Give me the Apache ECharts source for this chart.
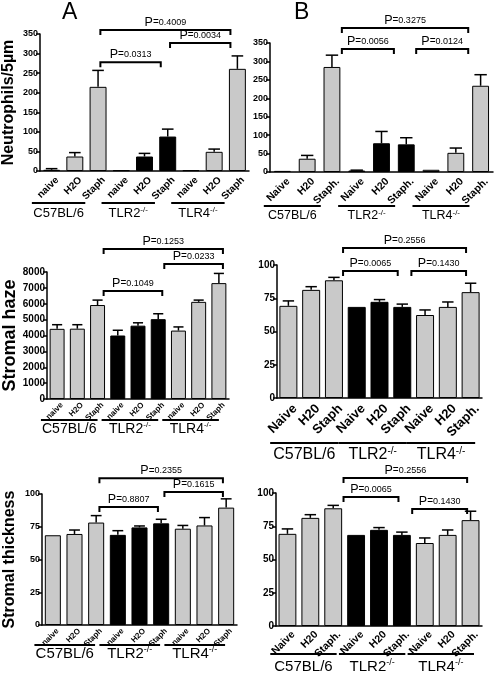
<!DOCTYPE html>
<html><head><meta charset="utf-8">
<script src="https://cdn.jsdelivr.net/npm/echarts@6/dist/echarts.min.js"></script>
<style>html,body{margin:0;padding:0;background:#fff}#c{width:496px;height:678px}</style>
</head><body><div id="c"></div>
<script>
// ---------- DATA ----------
const catsA  = ['naive','H2O','Staph','naive','H2O','Staph','naive','H2O','Staph'];
const catsB1 = ['Naive','H20','Staph.','Naive','H20','Staph.','Naive','H20','Staph.'];
const catsB2 = ['Naive','H20','Staph','Naive','H20','Staph','Naive','H20','Staph.'];
const catsB3 = ['Naive','H20','Staph.','Naive','H20','Staph.','Naive','H20','Staph.'];
const groupNames = ['C57BL/6','TLR2','TLR4'];
const groupSup   = ['', '-/-', '-/-'];
const groupSpans = [[0,2],[3,5],[6,8]];
const blackBar   = [false,false,false,true,true,true,false,false,false];

// Neutrophils/5µm
const neutroA    = [3, 37, 215, 2, 37, 88, 2, 49, 261];
const neutroAErr = [6, 47, 257, null, 45, 107, null, 56, 294];
const neutroB    = [3, 36, 285, 4, 78, 75, 6, 52, 234];
const neutroBErr = [null, 45, 317, 5, 110, 93, null, 65, 264];
// Stromal haze
const hazeA    = [4420, 4430, 5920, 4000, 4620, 5030, 4310, 6120, 7300];
const hazeAErr = [4680, 4680, 6230, 4330, 4800, 5370, 4540, 6230, 7910];
const hazeB    = [69.3, 81.3, 88.5, 68.5, 72.3, 68.5, 62.4, 68.5, 79.6];
const hazeBErr = [73.0, 83.7, 90.7, null, 74.0, 70.6, 66.2, 72.2, 86.3];
// Stromal thickness
const thickA    = [68.5, 69.5, 78.2, 68.8, 74.5, 77.6, 73.5, 76.0, 89.6];
const thickAErr = [null, 72.5, 83.5, 72.0, 75.6, 80.7, 76.0, 82.0, 96.3];
const thickB    = [69.3, 81.3, 88.5, 68.5, 72.3, 68.5, 62.4, 68.5, 79.6];
const thickBErr = [73.0, 83.7, 90.7, null, 74.0, 70.6, 66.2, 72.2, 86.3];

// Significance brackets: [fromCategory, toCategory, height]
const brA1 = [[2,8,360],[2,5,278],[5,8,327]];  const pA1 = ['0.4009','0.0313','0.0034'];
const brB1 = [[2,8,391],[2,5,334],[5,8,334]];  const pB1 = ['0.3275','0.0056','0.0124'];
const brA2 = [[2,8,9450],[5,8,8500],[2,5,6800]]; const pA2 = ['0.1253','0.0233','0.1049'];
const brB2 = [[2,8,112.8],[2,5,95.5],[5,8,95.5]]; const pB2 = ['0.2556','0.0065','0.1430'];
const brA3 = [[2,8,112],[5,8,101.5],[2,5,90]];  const pA3 = ['0.2355','0.1615','0.8807'];
const brB3 = [[2,8,111.3],[2,5,97],[5,8,88]];   const pB3 = ['0.2556','0.0065','0.1430'];

// ---------- LAYOUT / STYLE ----------
const FF = "'Liberation Sans', Arial, Helvetica, sans-serif";
const P = [
 {g:[40,34,209,137], max:350, int:50, cats:catsA, v:neutroA, e:neutroAErr, br:brA1, pv:pA1, yf:9, xf:10, ld:[2,4], bw:'73%',
  name:'Neutrophils/5µm', ns:16, ng:23, bi:[0.1,-0.3], go:[-0.85,-0.55], gd:[32,42], gf:13},
 {g:[270,43,223,129], max:350, int:50, cats:catsB1, v:neutroB, e:neutroBErr, br:brB1, pv:pB1, yf:9, xf:10.5, ld:[2,4], bw:'68%',
  name:'', bi:[0.4,-0.5], go:[-0.75,-0.45], gd:[34,44], gf:12.5},
 {g:[47,272,182,127], max:8000, int:1000, cats:catsA, v:hazeA, e:hazeAErr, br:brA2, pv:pA2, yf:10, xf:8, ld:[2,2], bw:'74%',
  name:'Stromal haze', ns:18, ng:28, bi:[0.3,0.2], go:[-0.8,0], gd:[21,30], gf:14},
 {g:[277,265,205,133], max:100, int:25, cats:catsB2, v:hazeB, e:hazeBErr, br:brB2, pv:pB2, yf:10, xf:13, ld:[2,4], bw:'79%',
  name:'', bi:[0.4,-0.2], go:[-0.8,0.2], gd:[45,57], gf:16},
 {g:[42,494,195,131], max:100, int:25, cats:catsA, v:thickA, e:thickAErr, br:brA3, pv:pA3, yf:9, xf:8, ld:[2,2], bw:'74%',
  name:'Stromal thickness', ns:16, ng:24, bi:[0.15,-0.15], go:[-0.85,-0.05], gd:[20,29], gf:15},
 {g:[276,493,206,133], max:100, int:25, cats:catsB3, v:thickB, e:thickBErr, br:brB3, pv:pB3, yf:10, xf:10.5, ld:[2,3], bw:'78%',
  name:'', bi:[0.45,-0.15], go:[-0.75,0.15], gd:[28,41], gf:15}
];

function errItem(params, api){
  const e = api.value(2);
  if (e == null || isNaN(e)) return null;
  const top = api.coord([api.value(0), api.value(1)]);
  const end = api.coord([api.value(0), e]);
  const hw = api.size([1,0])[0]*0.25;
  return {type:'group', children:[
    {type:'line', shape:{x1:top[0], y1:top[1], x2:end[0], y2:end[1]}, style:{stroke:'#000', lineWidth:1.5}},
    {type:'line', shape:{x1:end[0]-hw, y1:end[1], x2:end[0]+hw, y2:end[1]}, style:{stroke:'#000', lineWidth:1.5}}
  ]};
}
function labelItem(p){
  return function(params, api){
    const k = params.dataIndex;
    const c = api.coord([k, 0]);
    return {type:'text', x:c[0]+p.ld[0], y:c[1]+p.ld[1], rotation:Math.PI/4, originX:0, originY:0,
      style:{text:p.cats[k], fontSize:p.xf, fontWeight:'bold', fontFamily:FF, fill:'#000', align:'right', verticalAlign:'top'}};
  };
}
function brItem(p){
  return function(params, api){
    const i = params.dataIndex, d = p.br[i];
    const a = api.coord([d[0], d[2]]), b = api.coord([d[1], d[2]]);
    const bw = api.size([1,0])[0];
    const x1 = a[0] + p.bi[0]*bw, x2 = b[0] + p.bi[1]*bw, y = a[1];
    return {type:'group', children:[
      {type:'polyline', shape:{points:[[x1,y+5],[x1,y],[x2,y],[x2,y+5]]}, style:{stroke:'#000', lineWidth:2, fill:'none'}},
      {type:'text', x:(x1+x2)/2, y:y-1, style:{text:'{p|P}{e|=}{n|'+p.pv[i]+'}',
        rich:{p:{fontSize:12.5, fontFamily:FF, fill:'#000'}, e:{fontSize:10, fontFamily:FF, fill:'#000'}, n:{fontSize:9, fontFamily:FF, fill:'#000'}},
        align:'center', verticalAlign:'bottom', fill:'#000'}}
    ]};
  };
}
function grpItem(p){
  return function(params, api){
    const k = params.dataIndex, s = groupSpans[k];
    const a = api.coord([s[0], 0]), b = api.coord([s[1], 0]);
    const bw = api.size([1,0])[0];
    const x1 = a[0] + p.go[0]*bw, x2 = b[0] + p.go[1]*bw, y0 = a[1];
    const txt = '{t|'+groupNames[k]+'}' + (groupSup[k] ? '{s|'+groupSup[k]+'}' : '');
    return {type:'group', children:[
      {type:'line', shape:{x1:x1, y1:y0+p.gd[0], x2:x2, y2:y0+p.gd[0]}, style:{stroke:'#000', lineWidth:2}},
      {type:'text', x:(x1+x2)/2, y:y0+p.gd[1], style:{text:txt,
        rich:{t:{fontSize:p.gf, fontFamily:FF, fill:'#000', lineHeight:p.gf+2}, s:{fontSize:Math.round(p.gf*0.6), fontFamily:FF, fill:'#000', verticalAlign:'top'}},
        align:'center', verticalAlign:'middle', fill:'#000'}}
    ]};
  };
}

const grid=[], xAxis=[], yAxis=[], series=[];
P.forEach((p,i)=>{
  grid.push({left:p.g[0], top:p.g[1], width:p.g[2], height:p.g[3], containLabel:false, outerBoundsMode:'none'});
  xAxis.push({type:'category', gridIndex:i, data:p.cats,
    axisLine:{lineStyle:{color:'#000', width:1.5}}, axisTick:{show:false}, axisLabel:{show:false}});
  yAxis.push({type:'value', gridIndex:i, min:0, max:p.max, interval:p.int, splitLine:{show:false},
    axisLine:{show:true, lineStyle:{color:'#000', width:1.5}},
    axisTick:{show:true, length:4, lineStyle:{color:'#000', width:1.5}},
    axisLabel:{fontSize:p.yf, fontWeight:'bold', color:'#000', margin:2, fontFamily:FF, formatter:v=>String(v)},
    name:p.name, nameLocation:'middle', nameGap:p.ng||20, nameRotate:90,
    nameTextStyle:{fontSize:p.ns||12, fontWeight:'bold', color:'#000', fontFamily:FF}});
  series.push({type:'bar', xAxisIndex:i, yAxisIndex:i, barWidth:p.bw, silent:true,
    itemStyle:{borderColor:'#000', borderWidth:1},
    data:p.v.map((v,k)=>({value:v, itemStyle:{color: blackBar[k] ? '#000' : '#c9c9c9'}}))});
  series.push({type:'custom', xAxisIndex:i, yAxisIndex:i, silent:true, clip:false, z:5,
    encode:{x:0, y:[1,2]}, renderItem:errItem, data:p.v.map((v,k)=>[k, v, p.e[k]])});
  series.push({type:'custom', xAxisIndex:i, yAxisIndex:i, silent:true, clip:false, z:5,
    encode:{x:0, y:1}, renderItem:labelItem(p), data:p.cats.map((c,k)=>[k, 0])});
  series.push({type:'custom', xAxisIndex:i, yAxisIndex:i, silent:true, clip:false, z:5,
    encode:{x:[0,1], y:2}, renderItem:brItem(p), data:p.br.map(d=>[d[0], d[1], d[2]])});
  series.push({type:'custom', xAxisIndex:i, yAxisIndex:i, silent:true, clip:false, z:5,
    encode:{x:[0,1], y:2}, renderItem:grpItem(p), data:groupSpans.map(s=>[s[0], s[1], 0])});
});

const chart = echarts.init(document.getElementById('c'), null, {renderer:'canvas'});
chart.setOption({
  animation:false, backgroundColor:'#fff',
  grid, xAxis, yAxis, series,
  graphic:[
    {type:'text', left:62, top:1, style:{text:'A', fontSize:23, fontFamily:FF, fill:'#000'}},
    {type:'text', left:294, top:1, style:{text:'B', fontSize:23, fontFamily:FF, fill:'#000'}}
  ]
});
</script></body></html>
